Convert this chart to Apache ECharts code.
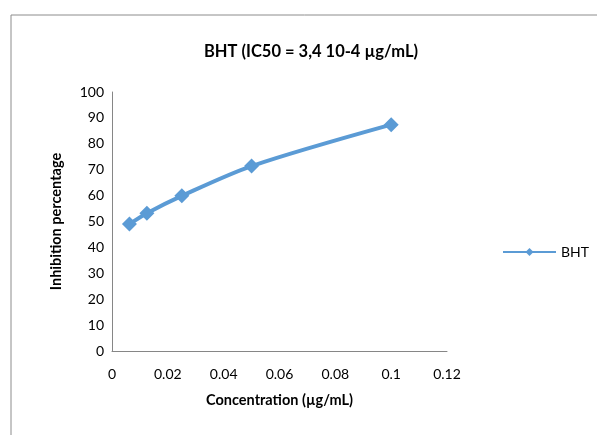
<!DOCTYPE html>
<html>
<head>
<meta charset="utf-8">
<script src="https://cdn.jsdelivr.net/npm/echarts@6/dist/echarts.min.js"></script>
<style>
  html, body { margin: 0; padding: 0; background: #fff; }
  #chart { width: 597px; height: 435px; }
</style>
</head>
<body>
<div id="chart"></div>
<script>
const concentrations = [0.00625, 0.0125, 0.025, 0.05, 0.1];
const inhibition = [49, 53.2, 59.9, 71.4, 87.4];
const seriesName = "BHT";

const FONT = "Lato, 'Open Sans', sans-serif";
const AXIS_GREY = "#868686";
const BLUE = "#5b9bd5";

const chart = echarts.init(document.getElementById("chart"), null, { renderer: "canvas" });

chart.setOption({
  backgroundColor: "#fff",
  animation: false,
  title: {
    text: "BHT (IC50 = 3,4 10-4 µg/mL)",
    left: 306,
    textAlign: "center",
    top: 38,
    textStyle: { fontFamily: FONT, fontSize: 16.5, fontWeight: "bold", color: "#000" },
  },
  graphic: [{
    type: "rect",
    shape: { x: 11, y: 15, width: 700, height: 600 },
    style: { fill: "none", stroke: "#8c8c8c", lineWidth: 1 },
    silent: true,
  }],
  legend: {
    data: [seriesName],
    left: 497,
    top: 240,
    itemWidth: 53,
    itemHeight: 10,
    textStyle: { fontFamily: FONT, fontSize: 14, color: "#000" },
  },
  grid: { left: 112, right: 150, top: 92, bottom: 84 },
  xAxis: {
    type: "value",
    min: 0,
    max: 0.12,
    interval: 0.02,
    name: "Concentration (µg/mL)",
    nameLocation: "middle",
    nameGap: 42,
    nameTextStyle: { fontFamily: FONT, fontSize: 14.5, fontWeight: "bold", color: "#000" },
    axisLine: { lineStyle: { color: AXIS_GREY } },
    axisTick: { show: false },
    splitLine: { show: false },
    axisLabel: { fontFamily: FONT, fontSize: 14, color: "#000", margin: 16 },
  },
  yAxis: {
    type: "value",
    min: 0,
    max: 100,
    interval: 10,
    name: "Inhibition percentage",
    nameLocation: "middle",
    nameGap: 48,
    nameTextStyle: { fontFamily: FONT, fontSize: 14.5, fontWeight: "bold", color: "#000" },
    axisLine: { show: true, lineStyle: { color: AXIS_GREY } },
    axisTick: { show: false },
    splitLine: { show: false },
    axisLabel: { fontFamily: FONT, fontSize: 14, color: "#000", margin: 8 },
  },
  series: [{
    name: seriesName,
    type: "line",
    smooth: 0.3,
    data: concentrations.map((c, i) => [c, inhibition[i]]),
    symbol: "diamond",
    symbolSize: 15,
    lineStyle: { color: BLUE, width: 4 },
    itemStyle: { color: BLUE },
  }],
});
</script>
</body>
</html>
